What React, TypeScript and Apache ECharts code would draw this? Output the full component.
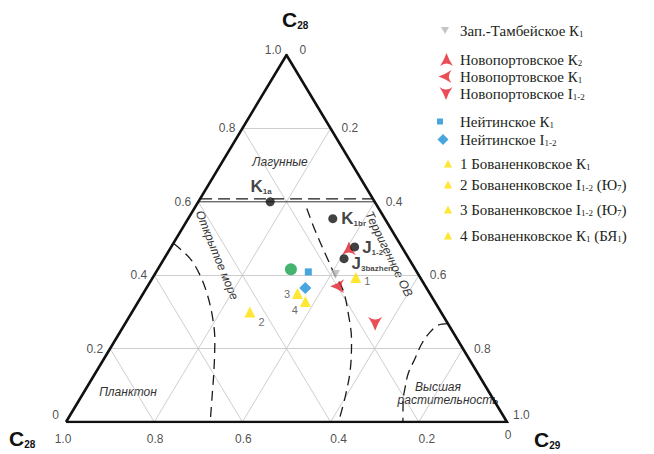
import React, { useEffect, useRef } from 'react';
import * as echarts from 'echarts';

// точки задаются как [доля C28 (верхняя вершина), доля C29 (правая вершина)]
const ticks = [0, 0.2, 0.4, 0.6, 0.8, 1.0];
const gridSteps = [0.2, 0.4, 0.6, 0.8];

const zapTambK1 = [[0.402, 0.41]];
const novK2 = [[0.473, 0.405]];
const novK1 = [[0.37, 0.43]];
const novJ12 = [[0.268, 0.567]];
const neitK1 = [[0.409, 0.345]];
const neitJ12 = [[0.365, 0.36]];
const bov1 = [[0.394, 0.46]];
const bov2 = [[0.3, 0.267]];
const bov3 = [[0.35, 0.35]];
const bov4 = [[0.328, 0.379]];
const greenPt = [[0.416, 0.302]];

const blackLabels = ['{b|K}{s|1a}', '{b|K}{s|1br}', '{b|J}{s|1-2}', '{b|J}{s|3bazhen}'];
const blackPts = [[0.6, 0.163], [0.554, 0.328], [0.477, 0.416], [0.445, 0.408]];

// границы областей
const lagoonLine = [[0.608, 0], [0.608, 0.392]];
const openSea = [[0.487, 0], [0.446, 0.058], [0.4, 0.104], [0.351, 0.144], [0.291, 0.186], [0.223, 0.226], [0.141, 0.265], [0.073, 0.295], [0, 0.327]];
const terrigen = [[0.582, 0.255], [0.523, 0.303], [0.45, 0.366], [0.4, 0.41], [0.359, 0.449], [0.296, 0.492], [0.223, 0.536], [0.141, 0.574], [0.068, 0.599], [0, 0.618]];
const higherPlants = [[0.268, 0.732], [0.264, 0.712], [0.245, 0.703], [0.214, 0.7], [0.173, 0.705], [0.132, 0.71], [0.091, 0.723], [0.059, 0.735], [0, 0.764]];

const seriesNames = [
    'Зап.-Тамбейское К1',
    'Новопортовское К2',
    'Новопортовское К1',
    'Новопортовское I1-2',
    'Нейтинское К1',
    'Нейтинское I1-2',
    '1 Бованенковское К1',
    '2 Бованенковское I1-2 (Ю7)',
    '3 Бованенковское I1-2 (Ю7)',
    '4 Бованенковское К1 (БЯ1)',
];
const seriesLabels = [
    'Зап.-Тамбейское К{s|1}',
    'Новопортовское К{s|2}',
    'Новопортовское К{s|1}',
    'Новопортовское I{s|1-2}',
    'Нейтинское К{s|1}',
    'Нейтинское I{s|1-2}',
    '1 Бованенковское К{s|1}',
    '2 Бованенковское I{s|1-2} (Ю{s|7})',
    '3 Бованенковское I{s|1-2} (Ю{s|7})',
    '4 Бованенковское К{s|1} (БЯ{s|1})',
];
const seriesData = [zapTambK1, novK2, novK1, novJ12, neitK1, neitJ12, bov1, bov2, bov3, bov4];
const numberLabels = ['', '', '', '', '', '', '1', '2', '3', '4'];

// тернарные координаты -> декартовы (0..1)
const toXY = (p: number[]) => [p[1] + p[0] / 2, p[0]];
const fmt = (v: number) => (v === 0 ? '0' : v.toFixed(1));

// значки: стрелки со слегка вогнутыми сторонами
const arrowUp = 'path://M5,0 Q6.9,5.6 10,10 Q5,6 0,10 Q3.1,5.6 5,0 Z';
const arrowLeft = 'path://M0,5 Q5.6,3.1 10,0 Q6,5 10,10 Q5.6,6.9 0,5 Z';
const arrowDown = 'path://M5,10 Q3.1,4.4 0,0 Q5,4 10,0 Q6.9,4.4 5,10 Z';
const triDown = 'path://M0,0 L10,0 L5,9 Z';

export default function App() {
    const chartRef = useRef<HTMLDivElement>(null);

    useEffect(() => {
        if (!chartRef.current) return;
        const chart = echarts.init(chartRef.current, null, { renderer: 'svg' });

        const red = '#e3202b';
        const yellow = '#ffe100';
        const blue = '#1a8fd6';
        const symbols = [
            { symbol: triDown, size: 9, color: '#b5b5b5' },
            { symbol: arrowUp, size: 14, color: red },
            { symbol: arrowLeft, size: 14, color: red },
            { symbol: arrowDown, size: 14, color: red },
            { symbol: 'rect', size: 7, color: blue },
            { symbol: 'diamond', size: 12, color: blue },
            { symbol: 'triangle', size: 11, color: yellow },
            { symbol: 'triangle', size: 11, color: yellow },
            { symbol: 'triangle', size: 11, color: yellow },
            { symbol: 'triangle', size: 11, color: yellow },
        ];
        const numberPos: any[] = [null, null, null, null, null, null,
            { position: 'right', distance: 3, offset: [0, 4] },
            { position: 'right', distance: 3, offset: [0, 10] },
            { position: 'left', distance: 2, offset: [0, 0] },
            { position: 'left', distance: 2, offset: [0, 8] },
        ];
        // расположение легенды: центр значка и его размер
        const legendIcon = [
            { cx: 445, cy: 32, size: 8 },
            { cx: 446.5, cy: 61, size: 13 },
            { cx: 445, cy: 78, size: 13 },
            { cx: 446, cy: 95, size: 13 },
            { cx: 440, cy: 123, size: 6 },
            { cx: 443, cy: 141, size: 11 },
            { cx: 448, cy: 165, size: 8 },
            { cx: 448, cy: 186, size: 8 },
            { cx: 448, cy: 211, size: 8 },
            { cx: 448, cy: 237, size: 8 },
        ];
        const textStart = 460;

        const gridSegs: number[][][] = [];
        gridSteps.forEach((t) => {
            if (t !== 0.6) gridSegs.push([[t, 0], [t, 1 - t]]);
            gridSegs.push([[0, t], [1 - t, t]]);
            gridSegs.push([[0, 1 - t], [1 - t, 0]]);
        });

        const tickStyle = { show: true, color: '#222', fontFamily: 'Liberation Sans', fontSize: 12 };
        const leftTicks = ticks.map((v) => ({
            value: toXY([v, 0]),
            label: { ...tickStyle, formatter: fmt(v), position: 'left', distance: v === 1 ? 5 : 7, offset: v === 1 ? [0, -5] : v === 0 ? [0, -7] : [0, 0] },
        }));
        const rightTicks = ticks.map((v) => ({
            value: toXY([1 - v, v]),
            label: { ...tickStyle, formatter: fmt(v), position: 'right', distance: v === 0 ? 13 : v === 1 ? 6 : 11, offset: v === 0 ? [0, -5] : v === 1 ? [0, -7] : [0, 0] },
        }));
        const bottomTicks = ticks.map((v) => ({
            value: toXY([0, 1 - v]),
            label: { ...tickStyle, formatter: fmt(v), position: 'bottom', distance: 11, offset: v === 0 ? [1, -4] : v === 1 ? [-3, 0] : [v < 0.5 ? 8 : 1, 0] },
        }));

        const dashed = { color: '#1a1a1a', width: 1.3, type: [10, 6] };
        const curve = (data: number[][]) => ({
            type: 'line',
            data: data.map(toXY),
            smooth: 0.35,
            showSymbol: false,
            silent: true,
            z: 3,
            lineStyle: dashed,
        });

        const subRich = {
            b: { fontFamily: 'Liberation Sans', fontWeight: 'bold', fontSize: 17, color: '#111' },
            s: { fontFamily: 'Liberation Sans', fontWeight: 'bold', fontSize: 8, color: '#111', verticalAlign: 'bottom' },
        };
        const blackPos: any[] = [
            { position: 'top', distance: 2, offset: [-9, 0] },
            { position: 'right', distance: 4, offset: [0, 0] },
            { position: 'right', distance: 3, offset: [0, 1] },
            { position: 'right', distance: 3, offset: [0, 5] },
        ];

        const titleRich = (sub: string) => ({
            text: '{c|C}{s|' + sub + '}',
            rich: {
                c: { fontFamily: 'Liberation Sans', fontWeight: 'bold', fontSize: 21, fill: '#111' },
                s: { fontFamily: 'Liberation Sans', fontWeight: 'bold', fontSize: 10, fill: '#111', verticalAlign: 'bottom' },
            },
        });
        const regionText = (text: string, x: number, y: number, rot = 0) => ({
            type: 'text', x, y, z: 1, rotation: (rot * Math.PI) / 180,
            style: { text, fontFamily: 'Liberation Sans', fontStyle: 'italic', fontSize: 12, fill: '#333', align: 'center', verticalAlign: 'middle' },
        });

        const option: any = {
            animation: false,
            grid: { left: 66, top: 55, width: 441, height: 367 },
            xAxis: { type: 'value', min: 0, max: 1, show: false },
            yAxis: { type: 'value', min: 0, max: 1, show: false },
            legend: seriesNames.map((name, i) => {
                const ic = legendIcon[i];
                return {
                    data: [{ name, icon: symbols[i].symbol }],
                    left: ic.cx - ic.size / 2,
                    top: ic.cy - 9,
                    padding: 0,
                    itemWidth: ic.size,
                    itemHeight: ic.size,
                    selectedMode: false,
                    formatter: () => seriesLabels[i],
                    textStyle: {
                        fontFamily: 'Liberation Serif',
                        fontSize: 15,
                        color: '#231f20',
                        padding: [0, 0, 0, textStart - (ic.cx + ic.size / 2 + 5)],
                        rich: {
                            s: { fontFamily: 'Liberation Serif', fontSize: 9, color: '#231f20', verticalAlign: 'bottom' },
                        },
                    },
                };
            }),
            series: [
                {
                    type: 'lines',
                    coordinateSystem: 'cartesian2d',
                    silent: true,
                    z: 1,
                    lineStyle: { color: '#c2c2c2', width: 0.8, opacity: 1 },
                    data: gridSegs.map((s) => ({ coords: s.map(toXY) })),
                },
                {
                    type: 'line',
                    data: [[0.6, 0], [0.6, 0.4]].map(toXY),
                    showSymbol: false,
                    silent: true,
                    z: 2,
                    lineStyle: { color: '#333', width: 1 },
                },
                {
                    type: 'line',
                    data: lagoonLine.map(toXY),
                    showSymbol: false,
                    silent: true,
                    z: 3,
                    lineStyle: { ...dashed, width: 1.4, type: [12, 6] },
                },
                curve(openSea),
                curve(terrigen),
                curve(higherPlants),
                {
                    type: 'line',
                    data: [[0, 0], [1, 0], [0, 1], [0, 0]].map(toXY),
                    showSymbol: false,
                    silent: true,
                    z: 4,
                    lineStyle: { color: '#111', width: 2.6, join: 'miter' },
                },
                {
                    type: 'scatter',
                    data: greenPt.map(toXY),
                    symbol: 'circle',
                    symbolSize: 12,
                    z: 5,
                    itemStyle: { color: '#17a14c' },
                },
                ...seriesNames.map((name, i) => ({
                    type: 'scatter',
                    name,
                    z: 6,
                    symbol: symbols[i].symbol,
                    symbolSize: symbols[i].size,
                    itemStyle: { color: symbols[i].color },
                    data: seriesData[i].map((p) => ({
                        value: toXY(p),
                        label: numberPos[i]
                            ? { show: true, formatter: numberLabels[i], fontFamily: 'Liberation Sans', fontSize: 11, color: '#444', ...numberPos[i] }
                            : { show: false },
                    })),
                })),
                {
                    type: 'scatter',
                    z: 7,
                    symbol: 'circle',
                    symbolSize: 9,
                    itemStyle: { color: '#111' },
                    data: blackPts.map((p, i) => ({
                        value: toXY(p),
                        label: { show: true, formatter: blackLabels[i], rich: subRich, ...blackPos[i] },
                    })),
                },
                {
                    type: 'scatter',
                    symbolSize: 0,
                    silent: true,
                    z: 8,
                    data: [...leftTicks, ...rightTicks, ...bottomTicks],
                },
            ],
            graphic: [
                { type: 'text', x: 282, y: 9, z: 10, style: titleRich('28') },
                { type: 'text', x: 9, y: 428, z: 10, style: titleRich('28') },
                { type: 'text', x: 534, y: 429, z: 10, style: titleRich('29') },
                regionText('Лагунные', 280, 162),
                regionText('Планктон', 128, 392),
                regionText('Высшая', 438, 387),
                regionText('растительность', 448, 400),
                regionText('Открытое море', 217, 255, -68),
                regionText('Терригенное ОВ', 389, 254, -64),
            ],
        };

        chart.setOption(option);
        return () => chart.dispose();
    }, []);

    return <div ref={chartRef} style={{ position: 'absolute', left: 0, top: 0, width: 654, height: 454 }} />;
}
